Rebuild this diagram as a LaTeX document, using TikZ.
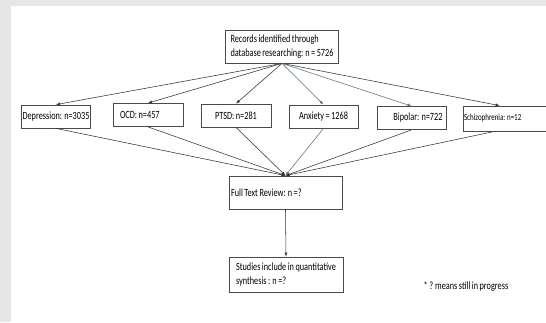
\documentclass[tikz,border=0pt]{standalone}
\usepackage{fontspec}
\setmainfont[FakeStretch=0.75, WordSpace=0.8]{Carlito}
\usepackage{xcolor}
\usepackage{tikz}
\usetikzlibrary{bayesnet,arrows.meta}

\definecolor{boxgray}{HTML}{4A4A4A}
\definecolor{linegray}{HTML}{333333}
\definecolor{lineblue}{HTML}{5E6F88}
\definecolor{framegray}{HTML}{E6E6E6}

\tikzset{
  box/.style={draw=boxgray, line width=0.8pt, inner sep=1pt, minimum height=23pt,
    font=\fontsize{11}{13.3}\selectfont},
  catbox/.style={box, minimum width=69pt},
  bigbox/.style={box, minimum width=113pt, minimum height=33pt, align=flush left},
  tip/.style={>={Latex[length=4pt,width=3pt]}, line width=0.55pt}
}

\begin{document}
\begin{tikzpicture}[x=1pt,y=-1pt]
      \fill[framegray] (0,0) rectangle (546,322);
      \fill[white] (11,6) rectangle (546,322);
      \useasboundingbox (0,0) rectangle (546,322);
      % search
      \node[bigbox, text width=103pt, inner xsep=5pt] (rec) at (282,46.5) {Records identified through\\database researching: n = 5726};
      % disorders
      \node[catbox, minimum width=68pt] (dep) at (56,116.5) {Depression: n=3035};
      \node[catbox, minimum width=70pt, text width=56pt, align=flush left, inner xsep=7pt] (ocd) at (148,115) {OCD: n=457};
      \node[catbox, minimum width=70pt] (ptsd) at (236,115.5) {PTSD: n=281};
      \node[catbox] (anx) at (323.5,116.5) {Anxiety = 1268};
      \node[catbox, text width=62pt, align=flush right, inner xsep=3pt] (bip) at (411.5,118) {Bipolar: n=722};
      \node[box, minimum width=97pt, minimum height=25pt, text width=95pt, align=flush left,
        font=\fontsize{9.3}{11}\selectfont] (schz) at (511.5,118.5) {Schizophrenia: n=12};
      \coordinate (schzin) at ([xshift=37pt]schz.north west);
      \coordinate (schzout) at ([xshift=32pt]schz.south west);
      % review
      \node[bigbox, text width=109pt, inner xsep=2pt] (full) at (285.5,192.5) {Full Text Review: n =?};
      \node[bigbox, minimum width=114pt, minimum height=35pt] (stud) at (286,274.5) {Studies include in quantitative\\synthesis : n =?};
      \node[font=\fontsize{11}{13.3}\selectfont, inner sep=0pt] (note) at (466,286.5) {* ? means still in progress};
      \edge[tip, linegray]{rec.south}{dep.north,ocd.north,ptsd.north,schzin}
      \edge[tip, lineblue]{rec.south}{anx.north,bip.north}
      \edge[tip, linegray]{dep.south,ocd.south,ptsd.south,bip.south,schzout}{full.north}
      \edge[tip, lineblue]{anx.south}{full.north}
      \edge[tip, linegray]{full.south}{stud.north}
    \end{tikzpicture}
\end{document}
